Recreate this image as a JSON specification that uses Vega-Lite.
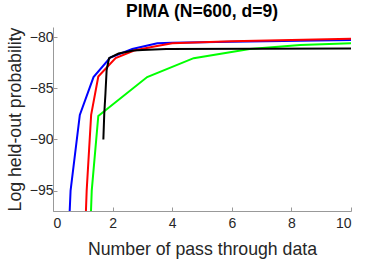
{
  "$schema": "https://vega.github.io/schema/vega-lite/v6.json",
  "autosize": {"type": "none"},
  "width": 298,
  "height": 184,
  "padding": {"left": 53, "top": 27, "right": 37, "bottom": 48},
  "background": "white",
  "config": {
    "view": {"stroke": null},
    "font": "Liberation Sans"
  },
  "title": {
    "text": "PIMA (N=600, d=9)",
    "fontSize": 17.5,
    "fontWeight": "bold",
    "font": "Liberation Sans",
    "color": "#000000",
    "baseline": "bottom",
    "offset": 3.5,
    "dy": 15
  },
  "data": {
    "values": [
      {"method": "blue", "x": 0.53, "y": -99.0},
      {"method": "blue", "x": 0.59, "y": -95.0},
      {"method": "blue", "x": 0.90, "y": -87.6},
      {"method": "blue", "x": 1.36, "y": -83.9},
      {"method": "blue", "x": 1.92, "y": -82.0},
      {"method": "blue", "x": 2.66, "y": -81.15},
      {"method": "blue", "x": 3.5, "y": -80.6},
      {"method": "blue", "x": 4.0, "y": -80.55},
      {"method": "blue", "x": 6.0, "y": -80.45},
      {"method": "blue", "x": 10.0, "y": -80.28},
      {"method": "red", "x": 1.08, "y": -99.0},
      {"method": "red", "x": 1.13, "y": -95.0},
      {"method": "red", "x": 1.28, "y": -87.6},
      {"method": "red", "x": 1.52, "y": -83.85},
      {"method": "red", "x": 2.1, "y": -82.05},
      {"method": "red", "x": 2.72, "y": -81.3},
      {"method": "red", "x": 3.4, "y": -80.9},
      {"method": "red", "x": 4.0, "y": -80.6},
      {"method": "red", "x": 6.0, "y": -80.4},
      {"method": "red", "x": 10.0, "y": -80.16},
      {"method": "green", "x": 1.25, "y": -99.0},
      {"method": "green", "x": 1.30, "y": -95.0},
      {"method": "green", "x": 1.52, "y": -87.7},
      {"method": "green", "x": 3.16, "y": -83.9},
      {"method": "green", "x": 4.72, "y": -82.05},
      {"method": "green", "x": 6.6, "y": -81.15},
      {"method": "green", "x": 8.3, "y": -80.75},
      {"method": "green", "x": 10.0, "y": -80.6},
      {"method": "black", "x": 1.69, "y": -90.0},
      {"method": "black", "x": 1.72, "y": -87.5},
      {"method": "black", "x": 1.76, "y": -85.5},
      {"method": "black", "x": 1.80, "y": -83.2},
      {"method": "black", "x": 1.88, "y": -82.05},
      {"method": "black", "x": 2.2, "y": -81.6},
      {"method": "black", "x": 2.7, "y": -81.3},
      {"method": "black", "x": 3.0, "y": -81.25},
      {"method": "black", "x": 3.8, "y": -81.15},
      {"method": "black", "x": 10.0, "y": -81.1}
    ]
  },
  "mark": {"type": "line", "clip": true, "strokeWidth": 2},
  "encoding": {
    "x": {
      "field": "x",
      "type": "quantitative",
      "scale": {"domain": [0, 10], "nice": false, "zero": false},
      "axis": {
        "title": "Number of pass through data",
        "values": [0, 2, 4, 6, 8, 10],
        "grid": false,
        "domainColor": "#999999",
        "tickColor": "#999999",
        "tickSize": -4,
        "labelPadding": 9,
        "labelFontSize": 14,
        "labelColor": "#262626",
        "labelFont": "Liberation Sans",
        "titleFont": "Liberation Sans",
        "titleFontSize": 17.7,
        "titleFontWeight": "normal",
        "titleColor": "#262626",
        "titleBaseline": "alphabetic",
        "titleY": 43.5
      }
    },
    "y": {
      "field": "y",
      "type": "quantitative",
      "scale": {"domain": [-97, -79], "nice": false, "zero": false},
      "axis": {
        "title": "Log held-out probability",
        "values": [-95, -90, -85, -80],
        "grid": false,
        "domainColor": "#999999",
        "tickColor": "#999999",
        "tickSize": -4,
        "labelPadding": 4,
        "labelFontSize": 14,
        "labelColor": "#262626",
        "labelFont": "Liberation Sans",
        "titleFont": "Liberation Sans",
        "titleFontSize": 17.7,
        "titleFontWeight": "normal",
        "titleColor": "#262626",
        "titleBaseline": "alphabetic",
        "titleX": -33
      }
    },
    "color": {
      "field": "method",
      "type": "nominal",
      "scale": {"domain": ["blue", "red", "green", "black"], "range": ["#0000ff", "#ff0000", "#00ff00", "#000000"]},
      "legend": null
    }
  }
}
